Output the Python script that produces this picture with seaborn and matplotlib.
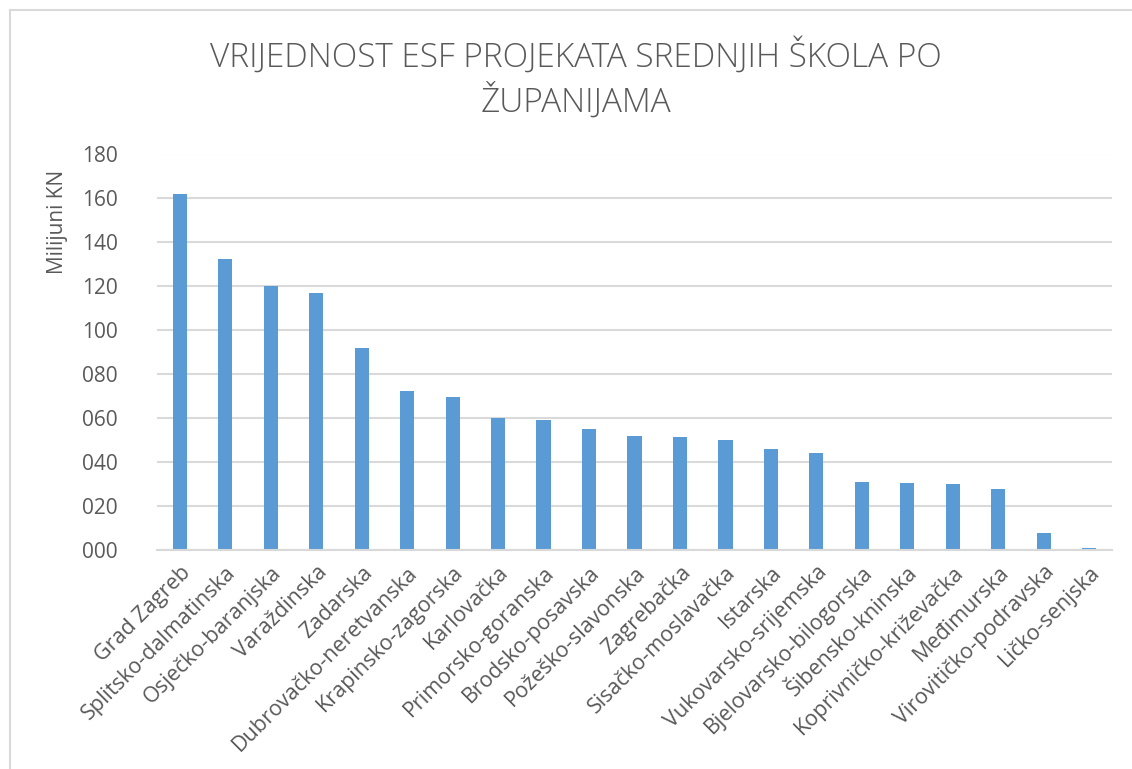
import matplotlib
matplotlib.use("Agg")
import matplotlib.pyplot as plt
import seaborn as sns
import pandas as pd
from matplotlib.lines import Line2D

counties = ["Grad Zagreb", "Splitsko-dalmatinska", "Osječko-baranjska", "Varaždinska",
            "Zadarska", "Dubrovačko-neretvanska", "Krapinsko-zagorska", "Karlovačka",
            "Primorsko-goranska", "Brodsko-posavska", "Požeško-slavonska", "Zagrebačka",
            "Sisačko-moslavačka", "Istarska", "Vukovarsko-srijemska", "Bjelovarsko-bilogorska",
            "Šibensko-kninska", "Koprivničko-križevačka", "Međimurska", "Virovitičko-podravska",
            "Ličko-senjska"]
values = [161.9, 132.3, 120.3, 117.1, 91.6, 72.3, 69.3, 60.0, 59.1, 54.9, 51.7, 51.1,
          50.0, 45.6, 44.0, 30.9, 30.5, 29.9, 27.6, 7.3, 0.8]
yticks = [0, 20, 40, 60, 80, 100, 120, 140, 160, 180]
ytick_labels = ["000", "020", "040", "060", "080", "100", "120", "140", "160", "180"]

title = "VRIJEDNOST ESF PROJEKATA SREDNJIH ŠKOLA PO\nŽUPANIJAMA"
ylabel = "Milijuni KN"

sns.set_theme(style="white")
plt.rcParams["font.family"] = ["Open Sans", "DejaVu Sans"]

W, H = 1132, 769
fig = plt.figure(figsize=(W / 100, H / 100), dpi=100)
ax = fig.add_axes([157 / W, 1 - 549.5 / H, (1112 - 157) / W, (549.5 - 154.5) / H])

df = pd.DataFrame({"county": counties, "value": values})
sns.barplot(data=df, x="county", y="value", color="#5B9BD5", saturation=1,
            width=0.31, ax=ax, edgecolor="none")

ax.set_ylim(0, 180)
ax.set_xlim(-0.5, len(counties) - 0.5)
ax.set_yticks(yticks)
ax.set_yticklabels(ytick_labels)
ax.yaxis.grid(True, color="#D9D9D9", linewidth=1.5)
ax.set_axisbelow(True)
for s in ["top", "right", "left"]:
    ax.spines[s].set_visible(False)
ax.spines["bottom"].set_color("#D9D9D9")
ax.spines["bottom"].set_linewidth(1.5)
ax.set_xlabel("")
ax.set_ylabel("")
ax.tick_params(axis="y", length=0, pad=28, labelsize=15, labelcolor="#595959")
ax.tick_params(axis="x", length=0, pad=9, labelsize=15.5, labelcolor="#595959")
ax.set_xticks(range(len(counties)))
ax.set_xticklabels(counties, rotation=45, ha="right", rotation_mode="anchor")

fig.text(58 / W, 1 - 222 / H, ylabel, rotation=90, ha="center", va="center",
         fontsize=15, color="#595959")
fig.text(576 / W, 1 - 79 / H, title, ha="center", va="center", fontsize=24,
         color="#595959", linespacing=1.3, fontweight="light")

fig.add_artist(Line2D([10 / W, 1], [1 - 10 / H, 1 - 10 / H], color="#D9D9D9", lw=1.5,
                      transform=fig.transFigure))
fig.add_artist(Line2D([10 / W, 10 / W], [0, 1 - 10 / H], color="#D9D9D9", lw=1.5,
                      transform=fig.transFigure))

fig.savefig("out.png", dpi=100)
